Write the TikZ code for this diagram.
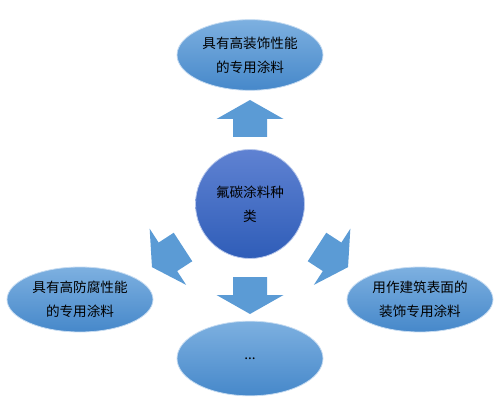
\documentclass[tikz,border=0pt]{standalone}
\usepackage{fontspec}
\newfontfamily\cjk{Noto Sans CJK SC}
\usepackage{tikz}
\usetikzlibrary{shapes}
\definecolor{ovaltop}{HTML}{7DB0E0}
\definecolor{ovalbot}{HTML}{4688CA}
\definecolor{hubtop}{HTML}{5F82D2}
\definecolor{hubbot}{HTML}{2F5DB8}
\definecolor{arrowblue}{HTML}{5B9BD5}

\begin{document}
\begin{tikzpicture}[x=0.75pt, y=0.75pt, every node/.style={font=\cjk\fontsize{10.2}{18}\selectfont, text=black}]
	\tikzstyle{oval} = [ellipse, inner sep=0pt, minimum width=109.5pt, top color=ovaltop, bottom color=ovalbot, draw=white!55!ovaltop, line width=0.6pt, align=center]
	\tikzstyle{hub} = [circle, inner sep=0pt, minimum size=81.75pt, top color=hubtop, bottom color=hubbot, draw=white!55!hubtop, line width=0.6pt, align=center]
	\tikzstyle{blk} = [fill=arrowblue, draw=none]
	\useasboundingbox (0,0) rectangle (496,404);
	% centre and the four kinds
	\node [hub] (kind) at (250,200) {氟碳涂料种\\类};
	\node [oval, minimum height=53pt] (deco) at (250,349) {具有高装饰性能\\的专用涂料};
	\node [oval, minimum height=48.75pt] (anti) at (80,104.5) {具有高防腐性能\\的专用涂料};
	\node [oval, minimum height=48.75pt] (face) at (420,104.5) {用作建筑表面的\\装饰专用涂料};
	\node [oval, minimum height=56pt] (more) at (250,45.5) {...};
	% block arrows
	\foreach \x/\y/\a in {250/267/90, 250/127/270, 183/157/213, 317/157/327}
		\fill [blk, shift={(\x,\y)}, rotate=\a] (0,-17) -- (18,-17) -- (18,-33.5) -- (37,0) -- (18,33.5) -- (18,17) -- (0,17) -- cycle;
\end{tikzpicture}
\end{document}
